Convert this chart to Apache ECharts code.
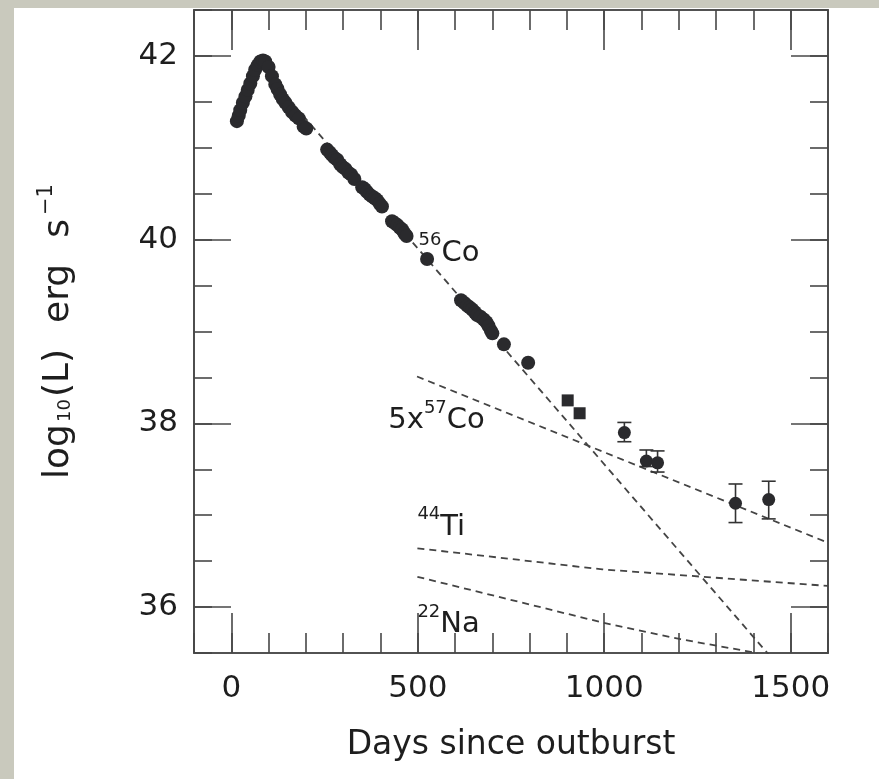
<!DOCTYPE html>
<html>
<head>
<meta charset="utf-8">
<title>SN light curve</title>
<script src="https://cdn.jsdelivr.net/npm/echarts@6/dist/echarts.min.js"></script>
<style>
    html, body {margin: 0; padding: 0; background: #fff;}
    #chart {width: 879px; height: 779px;}
</style>
</head>
<body>
<div id="chart"></div>
<script>
// 观测点 (days, log10 L)
var lcDays = [15, 20, 24, 31, 38, 44, 51, 58, 64, 71, 78, 85, 91, 100, 109, 118, 124, 131, 138, 145, 154, 163, 172, 181, 194, 201,
    257, 264, 270, 277, 284, 292, 299, 306, 314, 321, 330,
    351, 358, 364, 371, 378, 385, 391, 398, 404,
    431, 438, 445, 452, 458, 464, 470, 525,
    616, 625, 633, 640, 646, 653, 659, 668, 677, 684, 690, 696, 700, 731, 796];
var lcLogL = [41.29, 41.35, 41.41, 41.49, 41.56, 41.63, 41.70, 41.78, 41.85, 41.90, 41.94, 41.95, 41.94, 41.88, 41.78, 41.69, 41.64, 41.58, 41.53, 41.49, 41.44, 41.39, 41.35, 41.32, 41.23, 41.21,
    40.98, 40.95, 40.92, 40.89, 40.87, 40.82, 40.79, 40.77, 40.73, 40.71, 40.66,
    40.57, 40.55, 40.52, 40.49, 40.47, 40.45, 40.43, 40.39, 40.36,
    40.20, 40.18, 40.16, 40.13, 40.11, 40.07, 40.04, 39.79,
    39.34, 39.31, 39.28, 39.26, 39.24, 39.21, 39.18, 39.16, 39.13, 39.10, 39.06, 39.01, 38.98, 38.86, 38.66];

// 方块点
var sqDays = [902, 934];
var sqLogL = [38.25, 38.11];

// 带误差棒的点
var errDays = [1054, 1113, 1143, 1352, 1441];
var errLogL = [37.90, 37.59, 37.57, 37.13, 37.17];
var errLo = [37.80, 37.53, 37.47, 36.92, 36.96];
var errHi = [38.01, 37.71, 37.70, 37.34, 37.37];

// 衰变曲线 (虚线)
var co56Days = [150, 1450];
var co56LogL = [41.55, 35.44];
var co57Days = [498, 1600];
var co57LogL = [38.51, 36.70];
var ti44Days = [499, 995, 1600];
var ti44LogL = [36.64, 36.41, 36.23];
var na22Days = [499, 997, 1205, 1410];
var na22LogL = [36.33, 35.83, 35.65, 35.50];

// 曲线标注
var noteDays = [502, 421, 499, 499];
var noteLogL = [39.89, 38.07, 36.91, 35.85];
var noteText = ['{sup|56}{t|Co}', '{t|5x}{sup|57}{t|Co}', '{sup|44}{t|Ti}', '{sup|22}{t|Na}'];

var xMajor = [0, 500, 1000, 1500];
var yMajor = [36, 38, 40, 42];

function zip(a, b) {
    var out = [];
    for (var i = 0; i < a.length; i++) {
        out.push([a[i], b[i]]);
    }
    return out;
}

var FONT = "'DejaVu Sans', Arial, sans-serif";
var INK = '#2a2a2d';
var AXC = '#474747';
var TXT = '#1e1e1e';

function xAxisDef(pos, major, labels) {
    return {
        type: 'value', position: pos, min: -100, max: 1600, interval: 100,
        splitLine: {show: false},
        axisLine: {show: true, onZero: false, lineStyle: {color: AXC, width: 1.6}},
        axisTick: major ? {show: true, inside: true, length: 40, customValues: xMajor, lineStyle: {color: AXC, width: 1.6}}
                        : {show: true, inside: true, length: 20, lineStyle: {color: AXC, width: 1.6}},
        axisLabel: labels ? {show: true, customValues: xMajor, margin: 20, fontSize: 31, color: TXT, fontFamily: FONT,
                             formatter: function (v) { return String(v); }}
                          : {show: false}
    };
}

function yAxisDef(pos, major, labels) {
    return {
        type: 'value', position: pos, min: 35.5, max: 42.5, interval: 0.5,
        splitLine: {show: false},
        axisLine: {show: true, onZero: false, lineStyle: {color: AXC, width: 1.6}},
        axisTick: major ? {show: true, inside: true, length: 37, customValues: yMajor, lineStyle: {color: AXC, width: 1.6}}
                        : {show: true, inside: true, length: 18, lineStyle: {color: AXC, width: 1.6}},
        axisLabel: labels ? {show: true, customValues: yMajor, margin: 16, fontSize: 31, color: TXT, fontFamily: FONT,
                             formatter: function (v) { return String(v); }}
                          : {show: false}
    };
}

var xAxes = [xAxisDef('bottom', false, true), xAxisDef('bottom', true, false), xAxisDef('top', false, false), xAxisDef('top', true, false)];
xAxes[0].name = 'Days since outburst';
xAxes[0].nameLocation = 'middle';
xAxes[0].nameGap = 76;
xAxes[0].nameTextStyle = {fontSize: 33, color: TXT, fontFamily: FONT};

var yAxes = [yAxisDef('left', false, true), yAxisDef('left', true, false), yAxisDef('right', false, false), yAxisDef('right', true, false)];
yAxes[0].name = '{n|log}{sub|10}{n|(L)}{g| }{n|erg}{g| }{n|s}{sup|\u22121}';
yAxes[0].nameLocation = 'middle';
yAxes[0].nameRotate = 90;
yAxes[0].nameGap = 112;
yAxes[0].nameTextStyle = {
    fontSize: 36, color: TXT, fontFamily: FONT,
    rich: {
        n: {fontSize: 36, color: TXT, fontFamily: FONT, lineHeight: 46, verticalAlign: 'middle'},
        g: {fontSize: 36, fontFamily: FONT, width: 26, lineHeight: 46},
        sub: {fontSize: 18, color: TXT, fontFamily: FONT, lineHeight: 46, verticalAlign: 'bottom', padding: [0, 2, 8, 2]},
        sup: {fontSize: 21, color: TXT, fontFamily: FONT, lineHeight: 46, verticalAlign: 'top', padding: [0, 0, 0, 4]}
    }
};

function dashed(name, days, vals) {
    return {
        name: name, type: 'line', data: zip(days, vals), showSymbol: false, silent: true,
        lineStyle: {color: '#444', width: 1.8, type: [7, 5]}, z: 1
    };
}

// 误差棒
function renderErr(params, api) {
    var x = api.value(0);
    var top = api.coord([x, api.value(2)]);
    var bot = api.coord([x, api.value(1)]);
    var w = 7;
    var st = {stroke: '#333', lineWidth: 1.6};
    return {
        type: 'group',
        children: [
            {type: 'line', shape: {x1: top[0], y1: top[1], x2: bot[0], y2: bot[1]}, style: st},
            {type: 'line', shape: {x1: top[0] - w, y1: top[1], x2: top[0] + w, y2: top[1]}, style: st},
            {type: 'line', shape: {x1: bot[0] - w, y1: bot[1], x2: bot[0] + w, y2: bot[1]}, style: st}
        ]
    };
}

var errData = [];
for (var i = 0; i < errDays.length; i++) {
    errData.push([errDays[i], errLo[i], errHi[i]]);
}

var noteData = [];
for (var j = 0; j < noteDays.length; j++) {
    noteData.push({value: [noteDays[j], noteLogL[j]], txt: noteText[j]});
}

var dotStyle = {color: INK, opacity: 1};

var chart = echarts.init(document.getElementById('chart'));
var option = {
    backgroundColor: '#ffffff',
    animation: false,
    grid: {left: 194, right: 51, top: 10, bottom: 126},
    xAxis: xAxes,
    yAxis: yAxes,
    graphic: [
        {type: 'rect', shape: {x: 0, y: 0, width: 879, height: 8}, style: {fill: '#c9c9bd'}},
        {type: 'rect', shape: {x: 0, y: 0, width: 14, height: 779}, style: {fill: '#c9c9bd'}}
    ],
    series: [
        dashed('56Co', co56Days, co56LogL),
        dashed('57Co', co57Days, co57LogL),
        dashed('44Ti', ti44Days, ti44LogL),
        dashed('22Na', na22Days, na22LogL),
        {
            type: 'custom', renderItem: renderErr, data: errData, silent: true,
            encode: {x: 0, y: [1, 2]}, z: 2
        },
        {
            type: 'scatter', data: zip(lcDays, lcLogL), symbol: 'circle', symbolSize: 14,
            itemStyle: dotStyle, z: 3
        },
        {
            type: 'scatter', data: zip(errDays, errLogL), symbol: 'circle', symbolSize: 13,
            itemStyle: dotStyle, z: 3
        },
        {
            type: 'scatter', data: zip(sqDays, sqLogL), symbol: 'rect', symbolSize: 12,
            itemStyle: dotStyle, z: 3
        },
        {
            type: 'scatter', data: noteData, symbolSize: 0, silent: true, z: 4,
            itemStyle: {opacity: 1},
            label: {
                show: true, position: 'right', distance: 0, color: TXT,
                formatter: function (p) { return p.data.txt; },
                rich: {
                    t: {fontSize: 29, color: TXT, fontFamily: FONT, lineHeight: 36, verticalAlign: 'bottom'},
                    sup: {fontSize: 18, color: TXT, fontFamily: FONT, lineHeight: 36, verticalAlign: 'top'}
                }
            }
        }
    ]
};
chart.setOption(option, true);
</script>
</body>
</html>
